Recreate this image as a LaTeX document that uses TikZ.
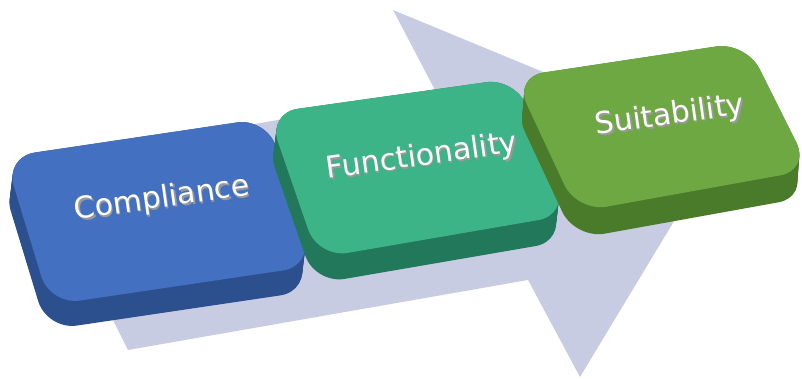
\documentclass[tikz,border=0pt]{standalone}
\usepackage{fontspec}
\setsansfont{DejaVu Sans}

\definecolor{arrowgray}{HTML}{C8CCE2}
\definecolor{blueface}{HTML}{4470C1}
\definecolor{blueside}{HTML}{2C4F8E}
\definecolor{tealface}{HTML}{3DB487}
\definecolor{tealside}{HTML}{22785A}
\definecolor{greenface}{HTML}{6DA842}
\definecolor{greenside}{HTML}{4A7B2A}

% white label with a grey extrusion under it
\newcommand\embossed[1]{\makebox[0pt][l]{\hspace{1.2pt}\raisebox{-2pt}{\textcolor{black!40}{#1}}}#1}

\begin{document}
\begin{tikzpicture}[
  x=1pt, y=-1pt,
  keyface/.style = {rounded corners=30pt},
  keylabel/.style = {font=\sffamily\fontsize{30}{36}\selectfont, text=white, rotate=8, inner sep=0pt}
]
  \useasboundingbox (0,0) rectangle (802,379);

  % Background arrow
  \fill[arrowgray] (34,163) -- (436,92) -- (393,10) -- (720,145)
    -- (580,377) -- (528,280) -- (128,350) -- cycle;

  % Compliance
  \foreach \s in {0,2,...,24}
    \fill[blueside, keyface, shift={(-0.12*\s,\s)}]
      (5,157) -- (267,118) -- (313,266) -- (50,305) -- cycle;
  \fill[blueside, keyface, shift={(-3,25)}]
    (5,157) -- (267,118) -- (313,266) -- (50,305) -- cycle;
  \fill[blueface, keyface] (5,157) -- (267,118) -- (313,266) -- (50,305) -- cycle;
  \node[keylabel] (compliance) at (162,200) {\embossed{Compliance}};

  % Functionality
  \foreach \s in {0,2,...,24}
    \fill[tealside, keyface, shift={(-0.12*\s,\s)}]
      (268,113) -- (516,78) -- (568,215) -- (318,258) -- cycle;
  \fill[tealside, keyface, shift={(-3,26)}]
    (268,113) -- (516,78) -- (568,215) -- (318,258) -- cycle;
  \fill[tealface, keyface] (268,113) -- (516,78) -- (568,215) -- (318,258) -- cycle;
  \node[keylabel] (functionality) at (422,158) {\embossed{Functionality}};

  % Suitability
  \foreach \s in {0,2,...,26}
    \fill[greenside, keyface, shift={(-0.08*\s,\s)}]
      (514,77) -- (746,42) -- (810,170) -- (577,212) -- cycle;
  \fill[greenside, keyface, shift={(-2,27)}]
    (514,77) -- (746,42) -- (810,170) -- (577,212) -- cycle;
  \fill[greenface, keyface] (514,77) -- (746,42) -- (810,170) -- (577,212) -- cycle;
  \node[keylabel] (suitability) at (670,117) {\embossed{Suitability}};

\end{tikzpicture}
\end{document}
